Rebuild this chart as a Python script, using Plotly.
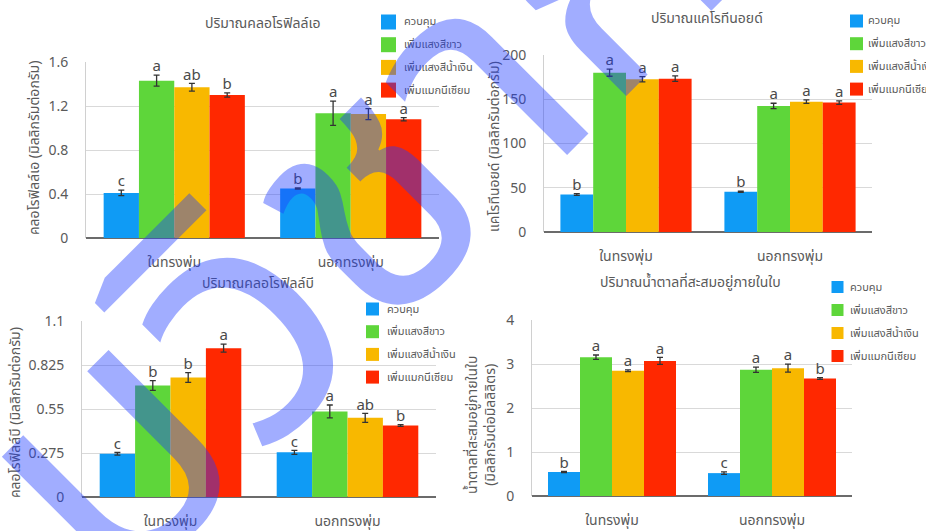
import plotly.graph_objects as go

W, H = 926, 531

# ---- data -------------------------------------------------------------
groups = ["ในทรงพุ่ม", "นอกทรงพุ่ม"]
treatments = ["ควบคุม", "เพิ่มแสงสีขาว", "เพิ่มแสงสีน้ำเงิน", "เพิ่มแมกนีเซียม"]

# chlorophyll a (mg/g): rows = treatment, cols = group
chl_a = [[0.41, 0.45], [1.43, 1.134], [1.37, 1.127], [1.30, 1.08]]
chl_a_err = [[0.025, 0.005], [0.05, 0.11], [0.035, 0.05], [0.02, 0.015]]
chl_a_sig = [["c", "b"], ["a", "a"], ["ab", "a"], ["b", "a"]]

# carotenoids (mg/g)
carot = [[42.4, 45.5], [180.0, 142.5], [172.6, 147.3], [173.3, 146.2]]
carot_err = [[1.0, 0.6], [4.0, 3.0], [3.0, 2.0], [3.0, 2.0]]
carot_sig = [["b", "b"], ["a", "a"], ["a", "a"], ["a", "a"]]

# chlorophyll b (mg/g)
chl_b = [[0.270, 0.279], [0.697, 0.535], [0.747, 0.495], [0.930, 0.447]]
chl_b_err = [[0.008, 0.012], [0.03, 0.04], [0.03, 0.028], [0.025, 0.005]]
chl_b_sig = [["c", "c"], ["b", "a"], ["b", "ab"], ["a", "b"]]

# accumulated sugar in leaves (mg/ml)
sugar = [[0.545, 0.52], [3.155, 2.87], [2.845, 2.905], [3.07, 2.67]]
sugar_err = [[0.015, 0.03], [0.05, 0.06], [0.02, 0.09], [0.08, 0.02]]
sugar_sig = [["b", "c"], ["a", "a"], ["a", "a"], ["a", "b"]]

titles = ["ปริมาณคลอโรฟิลล์เอ", "ปริมาณแคโรทีนอยด์",
          "ปริมาณคลอโรฟิลล์บี", "ปริมาณน้ำตาลที่สะสมอยู่ภายในใบ"]
ytitles = ["คลอโรฟิลล์เอ (มิลลิกรัมต่อกรัม)", "แคโรทีนอยด์ (มิลลิกรัมต่อกรัม)",
           "คลอโรฟิลล์บี (มิลลิกรัมต่อกรัม)",
           "น้ำตาลที่สะสมอยู่ภายในใบ<br>(มิลลิกรัมต่อมิลลิลิตร)"]
yticks = [[0, 0.4, 0.8, 1.2, 1.6], [0, 50, 100, 150, 200],
          [0, 0.275, 0.55, 0.825, 1.1], [0, 1, 2, 3, 4]]
ytick_text = [["0", "0.4", "0.8", "1.2", "1.6"], ["0", "50", "100", "150", "200"],
              ["0", "0.275", "0.55", "0.825", "1.1"], ["0", "1", "2", "3", "4"]]
watermark = "กรมวิชาการ"

values = [chl_a, carot, chl_b, sugar]
errors = [chl_a_err, carot_err, chl_b_err, sugar_err]
letters = [chl_a_sig, carot_sig, chl_b_sig, sugar_sig]

# ---- styling ----------------------------------------------------------
colors = ["#0f9bf5", "#5ed63a", "#f8b800", "#ff2800"]
TXT = "#5a5a5a"
FONT = "Tahoma, 'Noto Sans Thai', 'Leelawadee UI', sans-serif"
BAR_W = 0.2

# panel frames in pixels: plot left, right, top, bottom
frames = [(86, 439, 62, 238), (544, 872, 55, 232), (82, 436, 321, 497), (532, 852, 320, 496)]
title_pos = [(263, 23), (707, 18), (258, 283), (690, 282)]
ytitle_pos = [(34, 148), (494, 147), (15, 413), (481, 425)]
# legend key: square centre x, first row centre y, row step, square size, text x
legend_geo = [(388.5, 22, 22.7, 15, 402), (856.5, 21, 22.7, 13, 866),
              (372.5, 309, 22.7, 13, 385), (837.5, 287, 23, 12, 848)]


def px(x):
    return x / W


def py(y):
    return 1 - y / H


fig = go.Figure()
annotations = []
shapes = []
layout = {}

for p in range(4):
    sfx = "" if p == 0 else str(p + 1)
    xa, ya = "x" + sfx, "y" + sfx
    for i, name in enumerate(treatments):
        off = (i - 1.5) * BAR_W
        xs = [g + off for g in range(len(groups))]
        fig.add_trace(go.Bar(
            x=xs, y=values[p][i], width=BAR_W, name=name,
            marker=dict(color=colors[i], line=dict(width=0)),
            error_y=dict(type="data", array=errors[p][i], color="#333333",
                         thickness=1.3, width=3),
            xaxis=xa, yaxis=ya, showlegend=False,
        ))
        tops = [v + e for v, e in zip(values[p][i], errors[p][i])]
        fig.add_trace(go.Scatter(
            x=xs, y=tops, text=letters[p][i], mode="text",
            textposition="top center", cliponaxis=False,
            textfont=dict(size=15, color="#4a4a4a", family=FONT),
            showlegend=False, hoverinfo="skip", xaxis=xa, yaxis=ya,
        ))

    l, r, t, b = frames[p]
    ymax = yticks[p][-1]
    layout["xaxis" + sfx] = dict(
        domain=[px(l), px(r)], anchor=ya, range=[-0.5, 1.5],
        tickvals=list(range(len(groups))), ticktext=groups,
        showgrid=False, zeroline=False, showline=False, ticks="",
        ticklabelstandoff=14,
        tickfont=dict(size=14, color=TXT, family=FONT),
    )
    layout["yaxis" + sfx] = dict(
        domain=[py(b), py(t)], anchor=xa, range=[0, ymax],
        tickvals=yticks[p], ticktext=ytick_text[p],
        showgrid=True, gridcolor="#d9d9d9", gridwidth=1,
        zeroline=True, zerolinecolor="#6b6b6b", zerolinewidth=1.6,
        showline=True, linecolor="#d0d0d0", linewidth=1,
        ticks="", ticklabelstandoff=14,
        tickfont=dict(size=14, color=TXT, family=FONT),
    )

    # legend key: coloured squares with treatment names
    cx, cy0, step, sq, tx0 = legend_geo[p]
    for i, name in enumerate(treatments):
        cy = cy0 + i * step
        shapes.append(dict(
            type="rect", xref="paper", yref="paper",
            x0=px(cx - sq / 2), x1=px(cx + sq / 2),
            y0=py(cy + sq / 2), y1=py(cy - sq / 2),
            fillcolor=colors[i], line=dict(width=0),
        ))
        annotations.append(dict(
            text=name, x=px(tx0), y=py(cy), xref="paper", yref="paper",
            showarrow=False, xanchor="left", yanchor="middle",
            font=dict(size=11, color=TXT, family=FONT),
        ))

    tx, ty = title_pos[p]
    annotations.append(dict(
        text=titles[p], x=px(tx), y=py(ty), xref="paper", yref="paper",
        showarrow=False, xanchor="center", yanchor="middle",
        font=dict(size=14, color=TXT, family=FONT),
    ))
    yx, yy = ytitle_pos[p]
    annotations.append(dict(
        text=ytitles[p], x=px(yx), y=py(yy), xref="paper", yref="paper",
        showarrow=False, xanchor="center", yanchor="middle", textangle=-90,
        font=dict(size=14, color=TXT, family=FONT),
    ))

# diagonal watermark across the figure
annotations.append(dict(
    text=watermark, x=px(335), y=py(240), xref="paper", yref="paper",
    showarrow=False, xanchor="center", yanchor="middle", textangle=-45,
    font=dict(size=340, color="rgba(30,60,255,0.42)", family=FONT),
))

fig.update_layout(
    width=W, height=H,
    margin=dict(l=0, r=0, t=0, b=0, autoexpand=False),
    paper_bgcolor="white", plot_bgcolor="white",
    barmode="overlay", showlegend=False,
    annotations=annotations, shapes=shapes, **layout,
)

fig.write_html("out.html")
